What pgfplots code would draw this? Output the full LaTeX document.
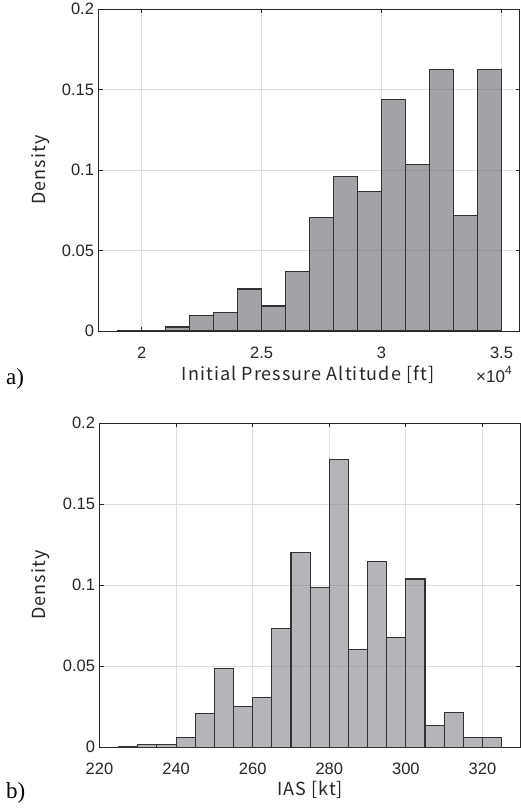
\documentclass[border=0pt]{standalone}
\usepackage{fontspec}
\setmainfont{Liberation Sans}
\newfontfamily\labelfont[LetterSpace=6]{Noto Sans CJK JP}
\newfontfamily\panelfont{Liberation Serif}
\usepackage{pgfplots}
\pgfplotsset{compat=1.18}
\definecolor{axgray}{RGB}{38,38,38}
\definecolor{gridgray}{RGB}{222,222,222}
\definecolor{edgegray}{RGB}{50,50,50}
\definecolor{fillA}{RGB}{99,101,107}
\definecolor{fillB}{RGB}{130,131,139}
\pgfplotsset{
  histstyle/.style={
    scale only axis,
    anchor=south west,
    ymin=0, ymax=0.2,
    ytick={0,0.05,0.1,0.15,0.2},
    yticklabels={0,0.05,0.1,0.15,0.2},
    scaled x ticks=false,
    grid=major,
    major grid style={gridgray, line width=0.8pt},
    axis line style={axgray, line width=0.8pt},
    tick style={axgray, line width=0.8pt},
    major tick length=4pt,
    tick align=inside,
    ticklabel style={font=\fontsize{16.5}{16.5}\selectfont, text=axgray},
    xticklabel style={yshift=-12pt},
    yticklabel style={xshift=-1pt},
  }
}
\begin{document}
\begin{tikzpicture}
\useasboundingbox (0pt,0pt) rectangle (520pt,810pt);
% ---------- a) ----------
\begin{axis}[histstyle,
  at={(98.5pt,479pt)}, width=421pt, height=322pt,
  xmin=18200, xmax=35750,
  xtick={20000,25000,30000,35000},
  xticklabels={2,2.5,3,3.5},
]
\addplot[ybar interval, fill=fillA, fill opacity=0.6, draw=edgegray, line width=1.1pt] coordinates {
(19000,0.0004) (20000,0.0004) (21000,0.0025) (22000,0.0099) (23000,0.0116)
(24000,0.0261) (25000,0.0155) (26000,0.0371) (27000,0.0704) (28000,0.0957)
(29000,0.0867) (30000,0.1437) (31000,0.1033) (32000,0.1623) (33000,0.0716)
(34000,0.1623) (35000,0.1623)
};
\end{axis}
% ---------- b) ----------
\begin{axis}[histstyle,
  at={(99.5pt,62.7pt)}, width=420.5pt, height=324pt,
  xmin=220, xmax=329.8,
  xtick={220,240,260,280,300,320},
  xticklabels={220,240,260,280,300,320},
]
\addplot[ybar interval, fill=fillB, fill opacity=0.6, draw=edgegray, line width=1.1pt] coordinates {
(225,0.0006) (230,0.0019) (235,0.0019) (240,0.0060) (245,0.0206)
(250,0.0488) (255,0.0253) (260,0.0309) (265,0.0733) (270,0.1202)
(275,0.0986) (280,0.1778) (285,0.0601) (290,0.1148) (295,0.0679)
(300,0.1039) (305,0.0134) (310,0.0216) (315,0.0058) (320,0.0058)
(325,0.0058)
};
\end{axis}
% ---------- labels ----------
\node[rotate=90, text=axgray, font=\labelfont\fontsize{18}{18}\selectfont] at (41pt,640pt) {Density};
\node[text=axgray, font=\labelfont\fontsize{18}{18}\selectfont] at (308pt,435pt) {Initial Pressure Altitude [ft]};
\node[anchor=base west, text=axgray, inner sep=0pt] at (476pt,427pt) {\fontsize{17}{17}\selectfont ×10\raisebox{0.5em}{\fontsize{12}{12}\selectfont 4}};
\node[anchor=west, font=\panelfont\fontsize{23}{23}\selectfont, inner sep=0pt] at (6pt,431pt) {a)};
\node[rotate=90, text=axgray, font=\labelfont\fontsize{18}{18}\selectfont] at (41pt,225pt) {Density};
\node[text=axgray, font=\labelfont\fontsize{18}{18}\selectfont] at (310pt,20pt) {IAS [kt]};
\node[anchor=west, font=\panelfont\fontsize{23}{23}\selectfont, inner sep=0pt] at (6pt,17pt) {b)};
\end{tikzpicture}
\end{document}
